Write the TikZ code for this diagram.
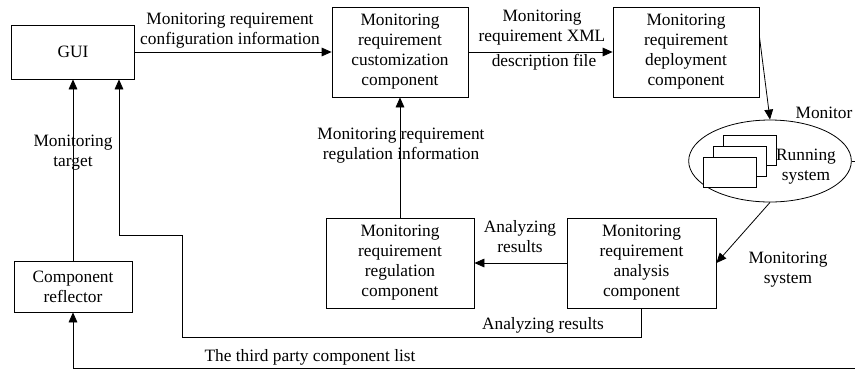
\documentclass[tikz,border=0pt]{standalone}
\usepackage{fontspec}
\setmainfont{Liberation Serif}
\usetikzlibrary{arrows.meta,shapes.geometric,calc}

\begin{document}
\begin{tikzpicture}[x=0.75pt,y=-0.75pt,line width=0.6pt,
        font=\fontsize{13}{15}\selectfont,
        box/.style={draw,rectangle,align=center,inner sep=0pt},
        arr/.style={-{Triangle[length=7.5pt,width=6.5pt]}},
        lbl/.style={align=center,inner sep=0pt}]
    \useasboundingbox (0,0) rectangle (855,369);
    % components
    \node[box,minimum width=92pt,minimum height=40.5pt] (gui) at (73,52) {GUI};
    \node[box,minimum width=102pt,minimum height=67.5pt] (cust) at (400,52)
        {Monitoring\\requirement\\customization\\component};
    \node[box,minimum width=109.5pt,minimum height=67.5pt] (depl) at (686,52)
        {Monitoring\\requirement\\deployment\\component};
    \node[box,minimum width=111pt,minimum height=67.5pt] (regl) at (400,263)
        {Monitoring\\requirement\\regulation\\component};
    \node[box,minimum width=111.75pt,minimum height=67.5pt] (anal) at (641.5,263)
        {Monitoring\\requirement\\analysis\\component};
    \node[box,minimum width=88.5pt,minimum height=38.25pt] (refl) at (73,286.5)
        {Component\\reflector};
    % running system
    \node[draw,ellipse,minimum width=122pt,minimum height=61.5pt,inner sep=0pt] (mon) at (770,161) {};
    \foreach \i in {0,1,2}
        \draw[fill=white] (723-10*\i,135+11*\i) rectangle +(53,30);
    \node[lbl] (run) at (806,167) {Running\\system};
    \node[lbl] (monl) at (824,113) {Monitor};
    % helper points (the picture is cut off at the right)
    \coordinate (rgt) at (856,368);
    \coordinate (c1) at (182,337);
    \coordinate (c2) at (119,235);
    % connectors
    \draw[arr] (gui.east) -- (cust.west);
    \draw[arr] (cust.east) -- (depl.west);
    \draw[arr] ($(depl.north east)!0.33!(depl.south east)$) -- (mon.north);
    \draw[arr] (mon.south) -- (anal.east);
    \draw[arr] (anal.west) -- (regl.east);
    \draw[arr] (regl.north) -- (cust.south);
    \draw[arr] (refl.north) -- (gui.south);
    \draw[arr] (anal.south) |- (c1) |- (c2) -- (c2 |- gui.south);
    \draw (mon.east) -- (mon.east -| rgt);
    \draw[arr] (rgt) -| (refl.south);
    % labels
    \node[lbl] (lcfg) at (230,31) {Monitoring requirement\\configuration information};
    \node[lbl] (lxml) at (542,28) {Monitoring\\requirement XML};
    \node[lbl] (ldsc) at (544,62) {description file};
    \node[lbl] (lreg) at (401,146) {Monitoring requirement\\regulation information};
    \node[lbl] (ltgt) at (73,153) {Monitoring\\target};
    \node[lbl] (lres) at (520,237) {Analyzing\\results};
    \node[lbl] (lres2) at (543,325) {Analyzing results};
    \node[lbl] (lsys) at (788,270) {Monitoring\\system};
    \node[lbl] (llst) at (310,357) {The third party component list};
\end{tikzpicture}
\end{document}
